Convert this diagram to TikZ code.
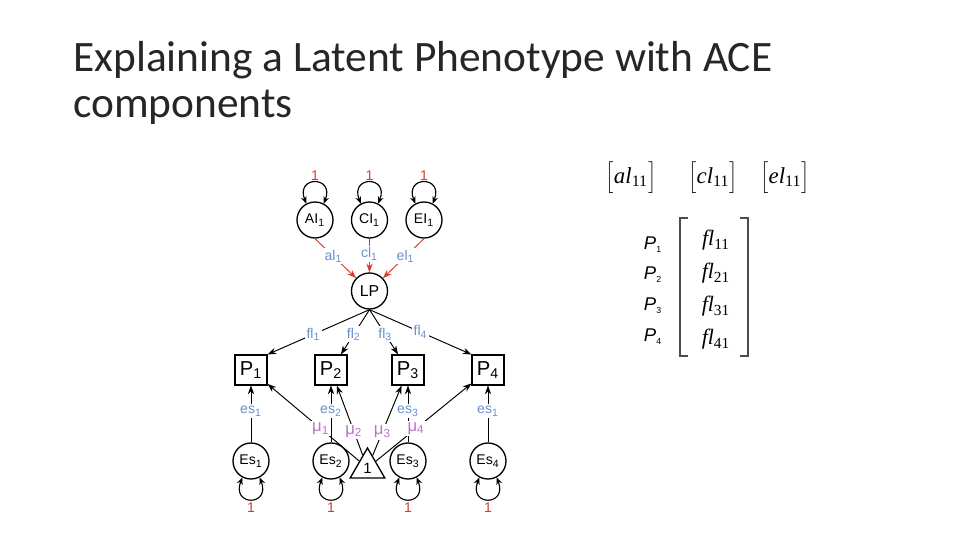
\documentclass[tikz,border=0pt]{standalone}
\usepackage{fontspec}
\setmainfont{Liberation Serif}
\newfontfamily\titlefont{Carlito}
\newfontfamily\semfont{Liberation Sans}[Ligatures=NoCommon]
\usetikzlibrary{arrows.meta,shapes.geometric}

\definecolor{pathblue}{RGB}{105,145,205}
\definecolor{pathred}{RGB}{215,60,50}
\definecolor{meanpurple}{RGB}{185,115,200}

\begin{document}
\begin{tikzpicture}[x=0.02cm, y=-0.02cm,
    latent/.style={draw, circle, line width=0.75pt, minimum size=0.72cm, inner sep=0pt,
      font=\semfont\fontsize{8}{9}\selectfont},
    manifest/.style={draw, rectangle, line width=0.6pt, minimum width=0.64cm,
      minimum height=0.6cm, inner sep=0pt, font=\semfont\fontsize{11.5}{12}\selectfont},
    const/.style={draw, regular polygon, regular polygon sides=3, line width=0.75pt,
      minimum size=0.8cm, inner sep=0pt, font=\semfont\fontsize{8.5}{9}\selectfont},
    pathlab/.style={fill=white, inner sep=1pt, text=pathblue,
      font=\semfont\fontsize{8}{9}\selectfont},
    meanlab/.style={fill=white, inner sep=1pt, text=meanpurple,
      font=\semfont\fontsize{9.5}{10}\selectfont},
    fixone/.style={text=pathred, inner sep=1pt, font=\semfont\fontsize{8}{9}\selectfont},
    arr/.style={-{Stealth[length=5pt,width=3.6pt]}, line width=0.55pt},
    twohead/.style={{Stealth[length=4pt,width=3.4pt]}-{Stealth[length=4pt,width=3.4pt]},
      line width=0.65pt},
  ]
    \useasboundingbox[fill=white] (0,0) rectangle (960,540);

    % title
    \node[anchor=base west, inner sep=0pt, text=black!85, font=\titlefont\fontsize{24.7}{28}\selectfont]
      (title) at (73,72) {Explaining a Latent Phenotype with ACE};
    \node[anchor=base west, inner sep=0pt, text=black!85, font=\titlefont\fontsize{24.7}{28}\selectfont]
      (titlecont) at (73,118) {components};

    % ACE factors and latent phenotype
    \node[latent] (AI1) at (315,220) {AI\textsubscript{1}};
    \node[latent] (CI1) at (369.5,220) {CI\textsubscript{1}};
    \node[latent] (EI1) at (424,220) {EI\textsubscript{1}};
    \node[latent, font=\semfont\fontsize{9}{10}\selectfont] (LP) at (369.5,291) {LP};

    \draw[twohead] (AI1.118) .. controls +(-11,-28) and +(11,-28) .. node[fixone, above] {1} (AI1.62);
    \draw[twohead] (CI1.118) .. controls +(-11,-28) and +(11,-28) .. node[fixone, above] {1} (CI1.62);
    \draw[twohead] (EI1.118) .. controls +(-11,-28) and +(11,-28) .. node[fixone, above] {1} (EI1.62);

    \draw[arr, pathred] (AI1.south) -- node[pathlab, pos=0.45] {al\textsubscript{1}} (LP);
    \draw[arr, pathred] (CI1.south) -- node[pathlab, pos=0.45] {cl\textsubscript{1}} (LP);
    \draw[arr, pathred] (EI1.south) -- node[pathlab, pos=0.45] {el\textsubscript{1}} (LP);

    % observed phenotypes
    \node[manifest] (P1) at (251,370) {P\textsubscript{1}};
    \node[manifest] (P2) at (331,370) {P\textsubscript{2}};
    \node[manifest] (P3) at (408,370) {P\textsubscript{3}};
    \node[manifest] (P4) at (488,370) {P\textsubscript{4}};

    \draw[arr] (LP.south) -- node[pathlab, pos=0.55] {fl\textsubscript{1}} (P1.north east);
    \draw[arr] (LP.south) -- node[pathlab, pos=0.55] {fl\textsubscript{2}} (P2);
    \draw[arr] (LP.south) -- node[pathlab, pos=0.55] {fl\textsubscript{3}} (P3);
    \draw[arr] (LP.south) -- node[pathlab, pos=0.5] {fl\textsubscript{4}} (P4.north west);

    % specific errors
    \node[latent] (Es1) at (251,461) {Es\textsubscript{1}};
    \node[latent] (Es2) at (331,461) {Es\textsubscript{2}};
    \node[latent] (Es3) at (408,461) {Es\textsubscript{3}};
    \node[latent] (Es4) at (488,461) {Es\textsubscript{4}};

    \draw[arr] (Es1) -- node[pathlab, pos=0.55] {es\textsubscript{1}} (P1);
    \draw[arr] (Es2) -- node[pathlab, pos=0.55] {es\textsubscript{2}} (P2);
    \draw[arr] (Es3) -- node[pathlab, pos=0.55] {es\textsubscript{3}} (P3);
    \draw[arr] (Es4) -- node[pathlab, pos=0.55] {es\textsubscript{1}} (P4);

    \draw[twohead] (Es1.-118) .. controls +(-11,29) and +(11,29) .. node[fixone, below=1pt] {1} (Es1.-62);
    \draw[twohead] (Es2.-118) .. controls +(-11,29) and +(11,29) .. node[fixone, below=1pt] {1} (Es2.-62);
    \draw[twohead] (Es3.-118) .. controls +(-11,29) and +(11,29) .. node[fixone, below=1pt] {1} (Es3.-62);
    \draw[twohead] (Es4.-118) .. controls +(-11,29) and +(11,29) .. node[fixone, below=1pt] {1} (Es4.-62);

    % means
    \node[const] (mean) at (367.5,468) {1};
    \draw[arr] (mean) -- node[meanlab, pos=0.42] {μ\textsubscript{1}} (P1);
    \draw[arr] (mean) -- node[meanlab, pos=0.34] {μ\textsubscript{2}} (P2);
    \draw[arr] (mean) -- node[meanlab, pos=0.34] {μ\textsubscript{3}} (P3);
    \draw[arr] (mean) -- node[meanlab, pos=0.42] {μ\textsubscript{4}} (P4);

    % path matrices
    \node[font=\fontsize{13}{15}\selectfont] (alMat) at (631,178) {$\Big[$\textit{al}\textsubscript{11}$\Big]$};
    \node[font=\fontsize{13}{15}\selectfont] (clMat) at (713,178) {$\Big[$\textit{cl}\textsubscript{11}$\Big]$};
    \node[font=\fontsize{13}{15}\selectfont] (elMat) at (785,178) {$\Big[$\textit{el}\textsubscript{11}$\Big]$};

    \node[font=\semfont\itshape\fontsize{10.5}{11}\selectfont] (rowP1) at (653,245) {P\textsubscript{\upshape\fontsize{5}{6}\selectfont 1}};
    \node[font=\semfont\itshape\fontsize{10.5}{11}\selectfont] (rowP2) at (653,275) {P\textsubscript{\upshape\fontsize{5}{6}\selectfont 2}};
    \node[font=\semfont\itshape\fontsize{10.5}{11}\selectfont] (rowP3) at (653,306) {P\textsubscript{\upshape\fontsize{5}{6}\selectfont 3}};
    \node[font=\semfont\itshape\fontsize{10.5}{11}\selectfont] (rowP4) at (653,337) {P\textsubscript{\upshape\fontsize{5}{6}\selectfont 4}};

    \node[anchor=base, font=\fontsize{12.5}{14}\selectfont] (fl11) at (716,246) {\textit{fl}\textsubscript{11}};
    \node[anchor=base, font=\fontsize{12.5}{14}\selectfont] (fl21) at (716,279) {\textit{fl}\textsubscript{21}};
    \node[anchor=base, font=\fontsize{12.5}{14}\selectfont] (fl31) at (716,312) {\textit{fl}\textsubscript{31}};
    \node[anchor=base, font=\fontsize{12.5}{14}\selectfont] (fl41) at (716,345) {\textit{fl}\textsubscript{41}};

    \draw[line width=1pt, black!70] (688,218) -- (680,218) -- (680,356) -- (688,356);
    \draw[line width=1pt, black!70] (740,218) -- (748,218) -- (748,356) -- (740,356);
  \end{tikzpicture}
\end{document}
